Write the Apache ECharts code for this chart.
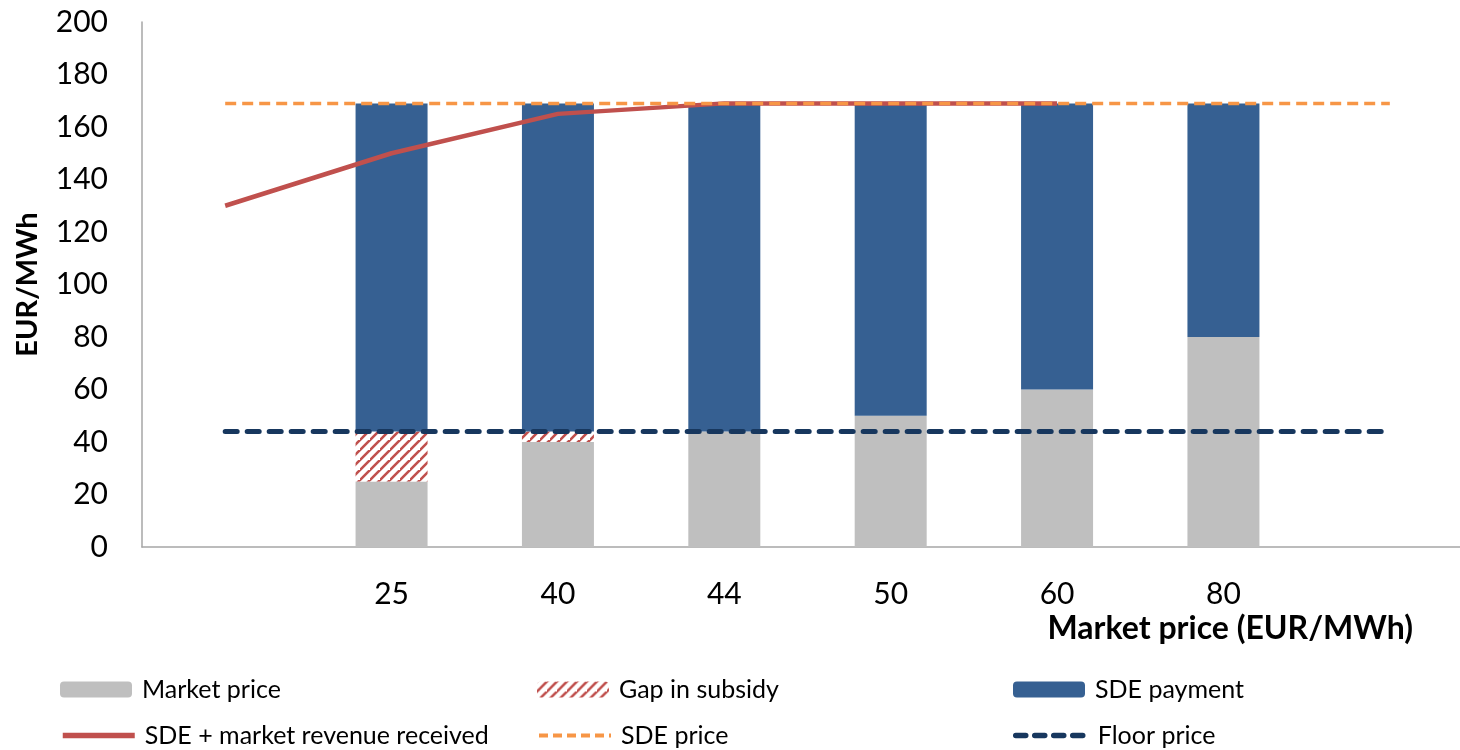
<!DOCTYPE html>
<html>
<head>
<meta charset="utf-8">
<script src="https://cdn.jsdelivr.net/npm/echarts@6/dist/echarts.min.js"></script>
<style>html,body{margin:0;padding:0;background:#fff;}#c{width:1460px;height:750px;}</style>
</head>
<body>
<div id="c"></div>
<script>
const categories = ['', '25', '40', '44', '50', '60', '80', ''];
const marketPrice = [null, 25, 40, 44, 50, 60, 80, null];
const gapInSubsidy = [null, 19, 4, 0, 0, 0, 0, null];
const sdePayment = [null, 125, 125, 125, 119, 109, 89, null];
const revenueReceived = [130, 150, 165, 169, 169, 169, null, null];
const sdePrice = [169, 169, 169, 169, 169, 169, 169, 169];
const floorPrice = [44, 44, 44, 44, 44, 44, 44, 44];
const yTicks = { min: 0, max: 200, interval: 20 };

function hatch() {
  const s = 10;
  const c = document.createElement('canvas');
  c.width = s; c.height = s;
  const g = c.getContext('2d');
  g.fillStyle = '#ffffff'; g.fillRect(0, 0, s, s);
  g.strokeStyle = '#C0504D'; g.lineWidth = 2.6;
  g.beginPath();
  g.moveTo(-2, s + 2); g.lineTo(s + 2, -2);
  g.moveTo(-s - 2, s + 2); g.lineTo(2, -2);
  g.moveTo(s - 2, 2 * s + 2); g.lineTo(2 * s + 2, s - 2);
  g.stroke();
  return c;
}

const FONT = 'Lato';
const chart = echarts.init(document.getElementById('c'), null, { renderer: 'canvas' });
const legendText = { fontFamily: FONT, fontSize: 25, color: '#000', padding: [0, 0, 0, 5] };
function leg(name, left, top, lineStyle) {
  const o = { left: left, top: top, itemWidth: 72, itemHeight: 16, textStyle: legendText,
              selectedMode: false, data: [name], padding: 0, itemGap: 0 };
  if (lineStyle) { o.itemStyle = { opacity: 0 }; o.lineStyle = lineStyle; }
  return o;
}

chart.setOption({
  animation: false,
  backgroundColor: '#fff',
  grid: { left: 142, top: 22, width: 1331, height: 525, containLabel: false, outerBoundsMode: 'none' },
  legend: [
    leg('Market price', 60, 677, null),
    leg('SDE + market revenue received', 60, 723, { width: 5.5 }),
    leg('Gap in subsidy', 537, 677, null),
    leg('SDE price', 537, 723, { width: 4, type: [9, 5] }),
    leg('SDE payment', 1013, 677, null),
    leg('Floor price', 1013, 723, { width: 5.5, type: [10, 9], cap: 'round' })
  ],
  xAxis: {
    type: 'category',
    data: categories,
    boundaryGap: true,
    axisLine: { show: true, lineStyle: { color: '#A6A6A6', width: 1.5 } },
    axisTick: { show: false },
    axisLabel: { fontFamily: FONT, fontSize: 30, color: '#000', margin: 32, interval: 0 },
    splitLine: { show: false }
  },
  yAxis: {
    type: 'value',
    min: yTicks.min, max: yTicks.max, interval: yTicks.interval,
    name: 'EUR/MWh',
    nameLocation: 'middle',
    nameGap: 100,
    nameRotate: 90,
    nameTextStyle: { fontFamily: FONT, fontSize: 29, fontWeight: 'bold', color: '#000' },
    axisLine: { show: true, lineStyle: { color: '#A6A6A6', width: 1.5 } },
    axisTick: { show: false },
    axisLabel: { fontFamily: FONT, fontSize: 30, color: '#000', margin: 34 },
    splitLine: { show: false }
  },
  graphic: [{
    type: 'text', right: 47, top: 613,
    style: { text: 'Market price (EUR/MWh)', font: 'bold 32px Lato', fill: '#000' }
  }],
  series: [
    { name: 'Market price', type: 'bar', stack: 's', data: marketPrice, barWidth: 72,
      itemStyle: { color: '#BFBFBF' } },
    { name: 'Gap in subsidy', type: 'bar', stack: 's', data: gapInSubsidy, barWidth: 72,
      itemStyle: { color: { image: hatch(), repeat: 'repeat' } } },
    { name: 'SDE payment', type: 'bar', stack: 's', data: sdePayment, barWidth: 72,
      itemStyle: { color: '#366092' } },
    { name: 'SDE + market revenue received', type: 'line', data: revenueReceived, symbol: 'none',
      lineStyle: { color: '#C0504D', width: 4.5 }, itemStyle: { color: '#C0504D' }, z: 3 },
    { name: 'SDE price', type: 'line', data: sdePrice, symbol: 'none',
      lineStyle: { color: '#F79646', width: 3.5, type: [11, 6] }, itemStyle: { color: '#F79646' }, z: 4 },
    { name: 'Floor price', type: 'line', data: floorPrice, symbol: 'none',
      lineStyle: { color: '#17375E', width: 5, type: [12, 10], cap: 'round' }, itemStyle: { color: '#17375E' }, z: 5 }
  ]
});
</script>
</body>
</html>
